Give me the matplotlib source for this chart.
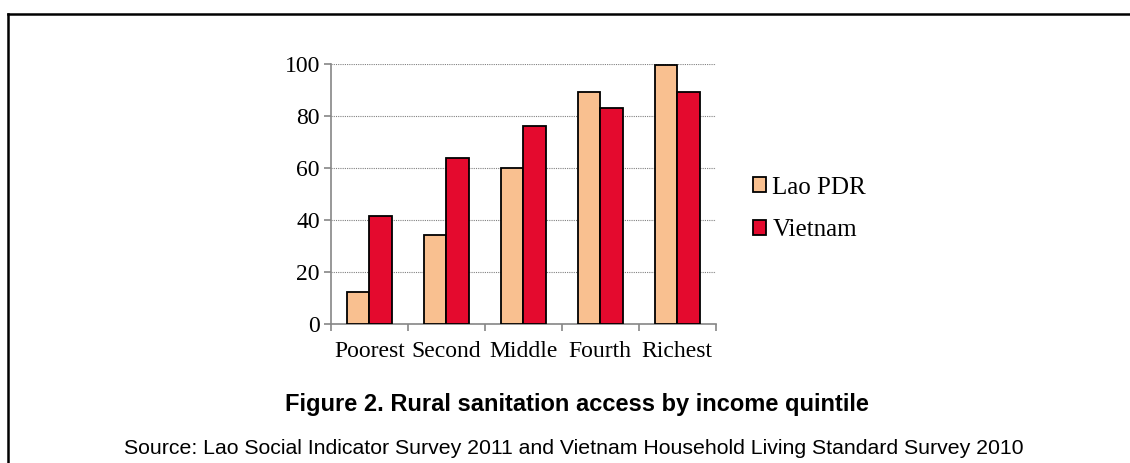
import matplotlib.pyplot as plt
import numpy as np
from matplotlib.lines import Line2D

quintiles = ["Poorest", "Second", "Middle", "Fourth", "Richest"]
lao = [12.5, 34.3, 60.0, 89.2, 99.7]
vietnam = [41.7, 63.8, 76.1, 83.3, 89.2]
series_names = ["Lao PDR", "Vietnam"]
y_ticks = [0, 20, 40, 60, 80, 100]

title = "Figure 2. Rural sanitation access by income quintile"
source = "Source: Lao Social Indicator Survey 2011 and Vietnam Household Living Standard Survey 2010"

serif = ["Liberation Serif", "DejaVu Serif"]
sans = ["Liberation Sans", "DejaVu Sans"]

fig = plt.figure(figsize=(11.3, 4.63), dpi=100)
ax = fig.add_axes([0.2929, 0.3002, 0.3405, 0.5609])

x = np.arange(len(quintiles))
w = 0.29
ax.bar(x - w / 2, lao, w, color="#F9C090", edgecolor="black", linewidth=1.3,
       label=series_names[0], zorder=3)
ax.bar(x + w / 2, vietnam, w, color="#E40A2E", edgecolor="black", linewidth=1.3,
       label=series_names[1], zorder=3)

ax.set_xlim(-0.5, len(quintiles) - 0.5)
ax.set_ylim(0, 100)
ax.set_yticks(y_ticks)
ax.set_yticklabels([str(v) for v in y_ticks], family=serif, fontsize=17)
ax.set_xticks(x)
ax.set_xticklabels(quintiles, family=serif, fontsize=17)
ax.set_xticks(np.arange(-0.5, len(quintiles)), minor=True)
ax.tick_params(axis="x", which="major", length=0, pad=12)
ax.tick_params(axis="x", which="minor", length=5, color="#868686", width=1.2, direction="out")
ax.tick_params(axis="y", length=5, color="#868686", width=1.2, direction="out", pad=3)

ax.yaxis.grid(True, linestyle=(0, (1, 1)), color="#808080", linewidth=0.8, zorder=0)
for s in ["top", "right"]:
    ax.spines[s].set_visible(False)
for s in ["left", "bottom"]:
    ax.spines[s].set_color("#868686")
    ax.spines[s].set_linewidth(1.2)

fig.legend(loc="center left", bbox_to_anchor=(753 / 1130, 1 - 209 / 463), frameon=False,
           prop={"family": serif, "size": 18}, handlelength=0.52, handleheight=0.52,
           handletextpad=0.25, labelspacing=0.84, borderpad=0, borderaxespad=0)

fig.text(577 / 1130, 1 - 410.5 / 463, title, ha="center", va="baseline",
         family=sans, fontsize=17, fontweight="bold")
fig.text(574 / 1130, 1 - 454 / 463, source, ha="center", va="baseline",
         family=sans, fontsize=15.3)

# outer frame: top and left edges only
fig.add_artist(Line2D([8 / 1130, 1.0], [1 - 14 / 463, 1 - 14 / 463],
                      transform=fig.transFigure, color="black", linewidth=1.8))
fig.add_artist(Line2D([8 / 1130, 8 / 1130], [1 - 14 / 463, 0.0],
                      transform=fig.transFigure, color="black", linewidth=1.8))

plt.savefig("out.png", dpi=100)
